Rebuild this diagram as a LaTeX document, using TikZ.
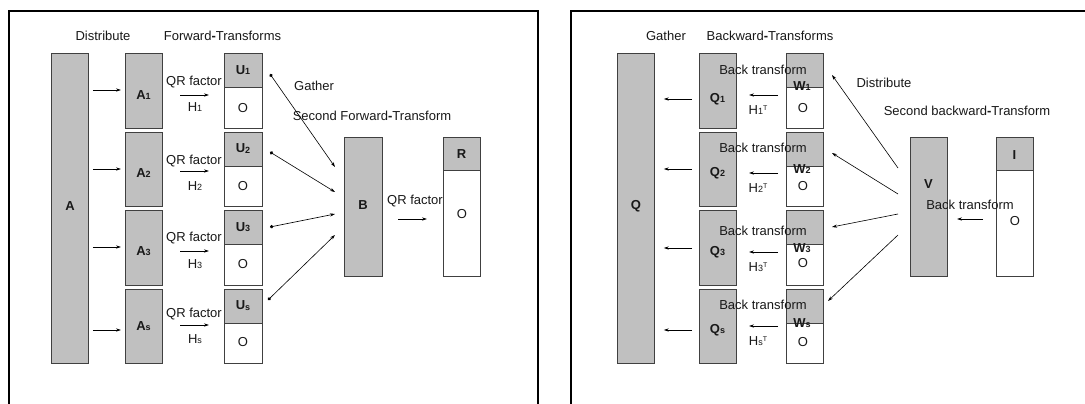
\documentclass[tikz,border=0pt]{standalone}
\usepackage{fontspec}
\setmainfont{Liberation Sans}
\usetikzlibrary{arrows.meta,calc}

% bold letter with a small bold index, and regular letter with small index
\newcommand\bidx[2]{\textbf{#1}\raisebox{-0.7pt}{\fontsize{9}{9}\selectfont\bfseries #2}}
\newcommand\ridx[2]{#1\raisebox{-0.7pt}{\fontsize{9}{9}\selectfont #2}}
\newcommand\tidx[2]{#1\raisebox{-0.7pt}{\fontsize{9}{9}\selectfont #2}\raisebox{4pt}{\fontsize{7}{7}\selectfont T}}

\definecolor{blockgray}{HTML}{C0C0C0}
\definecolor{edgegray}{HTML}{404040}

\begin{document}
\begin{tikzpicture}[x=1pt, y=-1pt,
  font=\fontsize{13}{15}\selectfont,
  txt/.style={inner sep=0pt, text=black!90},
  frame/.style={draw=black, line width=1.4pt},
  block/.style={draw=edgegray, line width=0.8pt, fill=blockgray, anchor=north west,
                inner sep=0pt, minimum width=37pt},
  blank/.style={block, fill=white},
  arr/.style={draw=black, line width=0.7pt, -{Stealth[length=5pt, width=3.2pt]}},
  garr/.style={draw=black, line width=0.6pt, {Circle[length=3.4pt]}-{Stealth[length=5pt, width=3.2pt]}},
  darr/.style={draw=black, line width=0.6pt, -{Stealth[length=5pt, width=3.2pt]}},
]
\useasboundingbox (0,0) rectangle (1085,404);
\fill[white] (0,0) rectangle (1085,404);

% ---------------- frames ----------------
\draw[frame] (9,404) -- (9,11) -- (538,11) -- (538,404);
\draw[frame] (571,11) -- (1085,11);
\draw[draw=black, line width=2.4pt] (571,404) -- (571,10.3);

% ======================= forward part =======================
\node[txt] (hDist) at (103,36) {Distribute};
\node[txt] (hFwd) at (222.5,36) {Forward\textbf{-}Transforms};

\node[block, minimum height=310pt] (A) at (51,53) {};
\node[txt] (Alab) at (70,206) {\textbf{A}};

% row blocks A_i, U_i (gray top) and O_i (white bottom)
\foreach \i/\t in {1/53, 2/131.5, 3/210, 4/288.5}{
  \node[block, minimum height=74.5pt] (A\i) at (125,\t) {};
  \node[block, minimum width=38pt, minimum height=34pt] (U\i) at (224,\t) {};
  \node[blank, minimum width=38pt, minimum height=40.5pt] (UO\i) at (224,\t+34) {};
}

% labels in the row blocks
\node[txt] (A1l) at (143.5,95) {\bidx{A}{1}};
\node[txt] (A2l) at (143.5,173) {\bidx{A}{2}};
\node[txt] (A3l) at (143.5,251) {\bidx{A}{3}};
\node[txt] (A4l) at (143.5,326) {\bidx{A}{s}};
\node[txt] (U1l) at (243,70) {\bidx{U}{1}};
\node[txt] (U2l) at (243,148.5) {\bidx{U}{2}};
\node[txt] (U3l) at (243,227) {\bidx{U}{3}};
\node[txt] (U4l) at (243,305.5) {\bidx{U}{s}};
\foreach \i/\y in {1/108, 2/186, 3/264, 4/342}{
  \node[txt] (UO\i l) at (243,\y) {O};
}

% distribute arrows A -> A_i
\foreach \i/\y in {1/90, 2/169, 3/247, 4/330}{
  \draw[arr] ($(A.east |- 0,\y)+(4,0)$) -- ($(A\i.west |- 0,\y)+(-4,0)$);
}

% QR factor steps A_i -> U_i
\foreach \i/\q/\a/\h/\n in {1/82/95/107/1, 2/161/171/186/2, 3/238/251/264/3, 4/314/325/339/s}{
  \node[txt] (qr\i) at (194,\q) {QR factor};
  \coordinate (qa\i) at (180,\a);
  \coordinate (qb\i) at (209,\a);
  \draw[arr] (qa\i) -- (qb\i);
  \node[txt] (h\i) at (195,\h) {\ridx{H}{\n}};
}

% gather U_i -> B
\node[txt, anchor=west] (gat) at (294,86) {Gather};
\node[txt] (sft) at (372,116) {Second Forward\textbf{-}Transform};
\node[block, minimum width=38pt, minimum height=139pt] (B) at (344,137) {};
\node[txt] (Bl) at (363,205) {\textbf{B}};

\coordinate (g1) at (270,74);  \coordinate (t1) at (335,167);
\coordinate (g2) at (270,152); \coordinate (t2) at (335,192);
\coordinate (g3) at (270,227); \coordinate (t3) at (335,214);
\coordinate (g4) at (268,300); \coordinate (t4) at (335,235);
\foreach \i in {1,...,4}{ \draw[garr] (g\i) -- (t\i); }

% second QR factor B -> R
\node[txt] (qrB) at (415,201) {QR factor};
\coordinate (qbA) at (398,219);
\coordinate (qbB) at (427,219);
\draw[arr] (qbA) -- (qbB);
\node[block, minimum height=33pt] (R) at (443,137) {};
\node[blank, minimum height=106pt] (RO) at (443,170) {};
\node[txt] (Rl) at (461.5,154) {\textbf{R}};
\node[txt] (ROl) at (462,214) {O};

% ======================= backward part =======================
\node[txt] (hGat) at (666,36) {Gather};
\node[txt] (hBwd) at (770,36) {Backward\textbf{-}Transforms};

\node[block, minimum height=310pt] (Q) at (617,53) {};
\node[txt] (Ql) at (636,206) {\textbf{Q}};

\foreach \i/\t in {1/53, 2/131.5, 3/210, 4/288.5}{
  \node[block, minimum height=74.5pt] (Q\i) at (699,\t) {};
  \node[block, minimum height=34pt] (W\i) at (786,\t) {};
  \node[blank, minimum height=40.5pt] (WO\i) at (786,\t+34) {};
}

\node[txt] (Q1l) at (717.5,99) {\bidx{Q}{1}};
\node[txt] (Q2l) at (717.5,173) {\bidx{Q}{2}};
\node[txt] (Q3l) at (717.5,252) {\bidx{Q}{3}};
\node[txt] (Q4l) at (717.5,330) {\bidx{Q}{s}};

% gather arrows Q_i -> Q
\foreach \i/\y in {1/99, 2/169, 3/248, 4/330}{
  \draw[arr] ($(Q\i.west |- 0,\y)+(-7,0)$) -- ($(Q.east |- 0,\y)+(9,0)$);
}

% back transforms W_i -> Q_i
\foreach \i/\b/\w/\o/\a/\h/\n in {1/70/86/108/95/110/1, 2/148/169/186/173/188/2,
                                 3/231/248/263/252/267/3, 4/305/323/342/326/341/s}{
  \coordinate (wa\i) at (778,\a);
  \coordinate (wb\i) at (749,\a);
  \draw[arr] (wa\i) -- (wb\i);
  \node[txt] (ht\i) at (758,\h) {\tidx{H}{\n}};
  \node[txt] (WO\i l) at (803,\o) {O};
  \node[txt] (W\i l) at (802,\w) {\bidx{W}{\n}};
  \node[txt] (bt\i) at (763,\b) {Back transform};
}

% second backward transform I -> V
\node[txt] (dist2) at (884,83) {Distribute};
\node[txt] (sbt) at (967,111) {Second backward\textbf{-}Transform};
\node[block, minimum height=139pt] (V) at (910,137) {};
\node[txt] (Vl) at (928.5,184) {\textbf{V}};
\node[block, minimum height=33pt] (I) at (996,137) {};
\node[blank, minimum height=106pt] (IO) at (996,170) {};
\node[txt] (Il) at (1014.5,155) {\textbf{I}};
\node[txt] (IOl) at (1015,221) {O};
\coordinate (ia) at (983,219);
\coordinate (ib) at (957,219);
\draw[arr] (ia) -- (ib);
\node[txt] (btV) at (970,205) {Back transform};

% distribute V -> W_i
\coordinate (d1) at (898,168); \coordinate (e1) at (832,75);
\coordinate (d2) at (898,194); \coordinate (e2) at (832,153);
\coordinate (d3) at (898,214); \coordinate (e3) at (832,227);
\coordinate (d4) at (898,235); \coordinate (e4) at (828,301);
\foreach \i in {1,...,4}{ \draw[darr] (d\i) -- (e\i); }
\end{tikzpicture}
\end{document}
